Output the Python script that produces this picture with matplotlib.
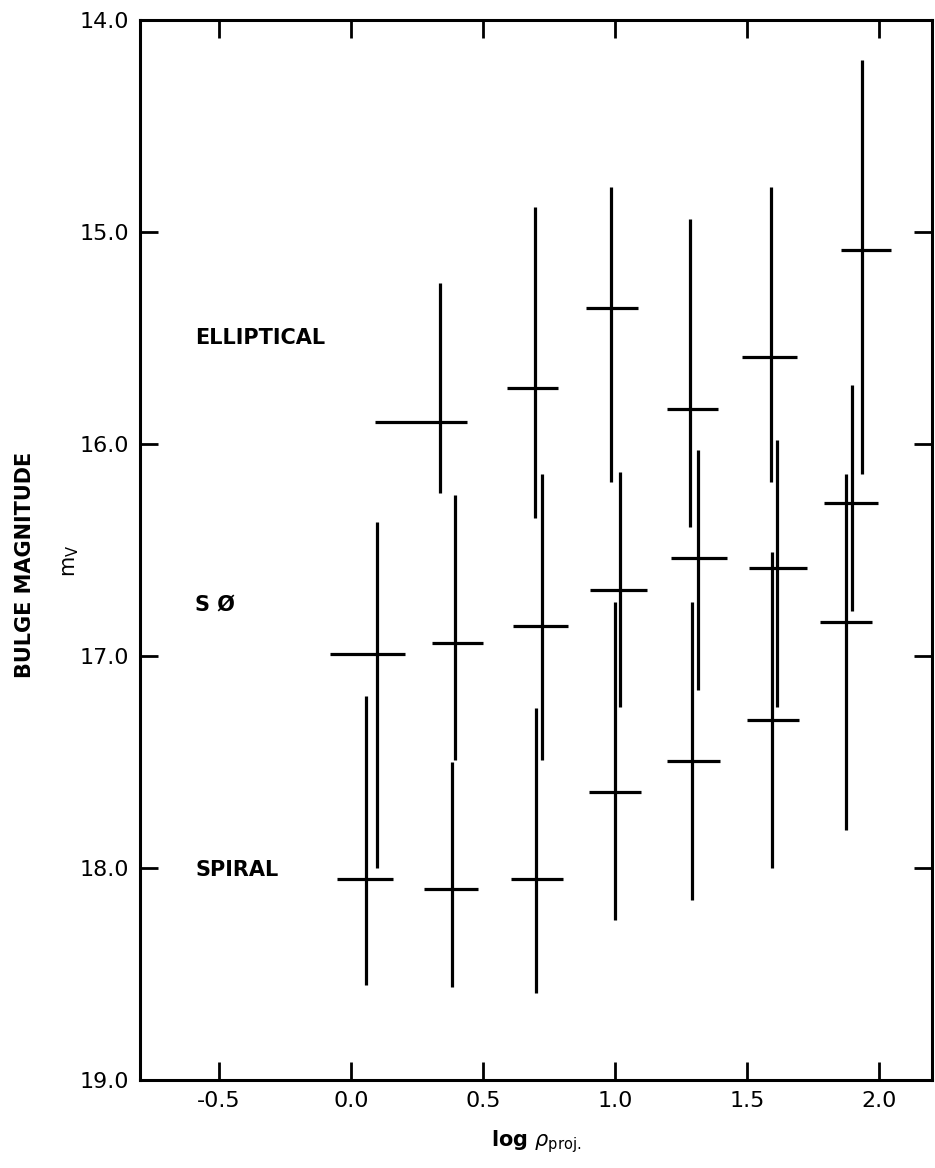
import numpy as np
import matplotlib
matplotlib.use("Agg")
import matplotlib.pyplot as plt

# values: vertical bar x, horizontal bar y,
# horizontal bar extent (x_lo, x_hi), vertical bar extent (y_top, y_bot)
ell_x = [0.336, 0.695, 0.986, 1.285, 1.591, 1.935]
ell_y = [15.895, 15.736, 15.36, 15.835, 15.59, 15.085]
ell_xlo = [0.09, 0.59, 0.888, 1.198, 1.481, 1.856]
ell_xhi = [0.44, 0.782, 1.085, 1.391, 1.689, 2.045]
ell_ytop = [15.24, 14.88, 14.79, 14.94, 14.79, 14.19]
ell_ybot = [16.23, 16.35, 16.18, 16.39, 16.18, 16.14]

s0_x = [0.098, 0.393, 0.722, 1.02, 1.315, 1.614, 1.897]
s0_y = [16.99, 16.94, 16.86, 16.69, 16.54, 16.585, 16.28]
s0_xlo = [-0.079, 0.306, 0.612, 0.903, 1.213, 1.508, 1.791]
s0_xhi = [0.204, 0.499, 0.820, 1.122, 1.425, 1.727, 1.995]
s0_ytop = [16.37, 16.24, 16.14, 16.13, 16.03, 15.98, 15.72]
s0_ybot = [18.0, 17.49, 17.49, 17.24, 17.16, 17.24, 16.79]

sp_x = [0.057, 0.382, 0.699, 0.998, 1.292, 1.595, 1.875]
sp_y = [18.05, 18.10, 18.05, 17.64, 17.495, 17.30, 16.84]
sp_xlo = [-0.053, 0.276, 0.605, 0.899, 1.198, 1.50, 1.776]
sp_xhi = [0.159, 0.480, 0.801, 1.096, 1.398, 1.697, 1.973]
sp_ytop = [17.19, 17.50, 17.245, 16.745, 16.745, 16.51, 16.14]
sp_ybot = [18.55, 18.56, 18.59, 18.245, 18.15, 18.0, 17.82]

xticks = [-0.5, 0.0, 0.5, 1.0, 1.5, 2.0]
yticks = [14.0, 15.0, 16.0, 17.0, 18.0, 19.0]

plt.rcParams['font.family'] = 'DejaVu Sans'

fig = plt.figure(figsize=(9.35, 11.68), dpi=100)
ax = fig.add_axes([0.1497, 0.0753, 0.8471, 0.9076])

def crosses(x, y, xlo, xhi, ytop, ybot):
    x = np.array(x); y = np.array(y)
    xerr = [x - np.array(xlo), np.array(xhi) - x]
    yerr = [y - np.array(ytop), np.array(ybot) - y]
    ax.errorbar(x, y, xerr=xerr, yerr=yerr, fmt='none', ecolor='black',
                elinewidth=2.3, capsize=0)

crosses(ell_x, ell_y, ell_xlo, ell_xhi, ell_ytop, ell_ybot)
crosses(s0_x, s0_y, s0_xlo, s0_xhi, s0_ytop, s0_ybot)
crosses(sp_x, sp_y, sp_xlo, sp_xhi, sp_ytop, sp_ybot)

ax.set_xlim(-0.8, 2.2)
ax.set_ylim(19.0, 14.0)
ax.set_xticks(xticks)
ax.set_xticklabels(['%.1f' % v for v in xticks])
ax.set_yticks(yticks)
ax.set_yticklabels(['%.1f' % v for v in yticks])
ax.tick_params(direction='in', length=13, width=2, top=True, right=True,
               labelsize=16, pad=8)
for s in ax.spines.values():
    s.set_linewidth(2.2)

lab = dict(fontsize=15, fontweight='semibold', va='center', ha='left')
ax.text(-0.59, 15.5, 'ELLIPTICAL', **lab)
ax.text(-0.59, 16.755, 'S Ø', **lab)
ax.text(-0.59, 18.01, 'SPIRAL', **lab)

ax.set_xlabel(r'log $\rho_{\mathrm{proj.}}$', fontsize=15, fontweight='semibold',
              labelpad=12)
fig.text(0.027, 0.516, 'BULGE MAGNITUDE', rotation=90, fontsize=15,
         fontweight='semibold', ha='center', va='center')
fig.text(0.076, 0.52, r'$\mathrm{m_V}$', rotation=90, fontsize=15,
         ha='center', va='center')

fig.savefig('out.png', dpi=100)
